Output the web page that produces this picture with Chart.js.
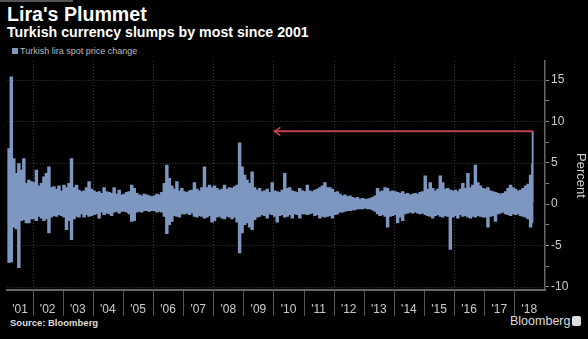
<!DOCTYPE html>
<html>
<head>
<meta charset="utf-8">
<script src="https://cdn.jsdelivr.net/npm/chart.js@4.4.0/dist/chart.umd.min.js"></script>
<style>
  html, body { margin: 0; padding: 0; background: #000; }
  #wrap { position: relative; width: 588px; height: 339px; background: #000; overflow: hidden;
          font-family: "Liberation Sans", Arial, sans-serif; }
  #chart { position: absolute; left: 0; top: 0; }
  .txt { position: absolute; white-space: nowrap; color: #fff; }
</style>
</head>
<body>
<div id="wrap">
  <div style="position:absolute;left:0;top:0;width:73px;height:2px;background:#555"></div>
  <div class="txt" style="left:7px;top:3px;font-size:19.6px;font-weight:bold;">Lira's Plummet</div>
  <div class="txt" style="left:7px;top:24px;font-size:14.2px;font-weight:bold;">Turkish currency slumps by most since 2001</div>
  <div class="txt" style="left:12px;top:46px;font-size:9px;color:#bbb;"><span style="display:inline-block;width:6px;height:6px;background:#7d97c0;margin-right:2px;"></span>Turkish lira spot price change</div>
  <div class="txt" style="left:10px;top:317px;font-size:9.5px;font-weight:bold;color:#ddd;">Source: Bloomberg</div>
  <div class="txt" style="left:510px;top:314px;font-size:12.5px;color:#ddd;">Bloomberg</div>
  <div style="position:absolute;left:572px;top:316px;width:9px;height:10px;background:#ddd;border-radius:2px;"></div>
  <canvas id="chart" width="588" height="339"></canvas>
</div>
<script>
// daily % moves, summarised as the monthly high and low
// months counted from Jan 2001; the series starts in March 2001
const firstMonth = 2;
const monthHigh = [
  6.7, 15.4, 5.5, 3.7, 4.9, 4.1, 5.5, 2.5, 2.9, 2.7,             // 2001 (Mar-Dec)
  2.6, 4.1, 2.2, 2.5, 3.3, 3.7, 4.5, 2.0, 2.1, 1.8, 2.2, 1.6,    // 2002
  2.3, 2.0, 2.5, 5.5, 2.0, 2.3, 1.7, 1.5, 1.6, 2.0, 2.7, 1.8,    // 2003
  1.6, 1.4, 1.5, 1.3, 2.0, 1.5, 1.4, 1.3, 2.0, 1.2, 1.7, 1.1,    // 2004
  1.2, 1.4, 1.5, 2.3, 1.9, 1.3, 1.1, 1.0, 1.2, 1.1, 1.0, 0.9,    // 2005
  1.0, 1.2, 1.1, 1.4, 2.5, 4.7, 3.1, 2.2, 1.8, 2.7, 1.6, 1.9,    // 2006
  1.5, 1.4, 1.6, 1.7, 2.6, 1.8, 1.6, 2.0, 4.5, 2.0, 2.3, 2.0,    // 2007
  2.2, 1.9, 1.7, 1.8, 2.3, 1.8, 2.0, 1.9, 2.1, 2.3, 7.4, 4.5,    // 2008
  3.5, 2.9, 2.5, 3.9, 2.0, 1.7, 1.9, 1.5, 1.6, 1.8, 1.4, 2.6,    // 2009
  1.6, 1.5, 1.4, 1.7, 3.7, 1.9, 2.0, 1.6, 1.5, 1.4, 1.9, 1.6,    // 2010
  1.5, 2.3, 1.6, 1.5, 1.7, 1.8, 2.0, 2.2, 2.6, 2.0, 2.0, 1.8,    // 2011
  1.4, 1.5, 1.2, 1.0, 1.1, 0.9, 1.0, 0.8, 0.7, 0.8, 0.6, 0.7,    // 2012
  0.6, 0.6, 0.7, 0.8, 1.0, 1.9, 1.5, 1.6, 2.0, 1.9, 1.5, 1.6,    // 2013
  1.5, 1.4, 1.3, 1.5, 1.2, 1.3, 1.1, 1.2, 1.3, 1.2, 1.4, 1.5,    // 2014
  3.4, 1.8, 2.6, 1.9, 1.6, 1.8, 3.4, 2.6, 1.8, 1.9, 1.7, 1.6,    // 2015
  1.7, 1.5, 1.8, 2.5, 1.9, 3.7, 2.0, 2.3, 4.7, 2.6, 2.2, 1.9,    // 2016
  1.8, 2.0, 1.6, 1.5, 1.4, 1.3, 1.2, 1.3, 1.5, 1.9, 2.3, 2.0,    // 2017
  1.8, 1.6, 1.7, 1.9, 2.2, 2.4, 3.5                              // 2018 (Jan-Jul)
];
const monthLow = [
  -7.1, -7.0, -2.8, -3.0, -7.7, -2.0, -1.9, -2.3, -2.3, -1.8,
  -1.8, -2.0, -1.5, -1.7, -2.0, -1.8, -3.5, -1.6, -1.4, -1.5, -1.3, -1.4,
  -1.6, -3.1, -2.0, -4.3, -1.8, -1.5, -1.6, -1.2, -1.6, -1.3, -1.5, -1.4,
  -1.3, -1.2, -1.7, -1.0, -1.3, -1.1, -1.2, -1.4, -1.0, -0.9, -1.1, -0.9,
  -0.9, -1.0, -1.2, -2.1, -2.0, -1.0, -0.9, -1.0, -0.8, -0.8, -0.9, -0.8,
  -0.8, -1.0, -0.9, -1.0, -1.5, -3.6, -2.5, -2.1, -1.4, -1.5, -1.6, -1.2,
  -1.2, -1.1, -1.3, -1.1, -1.5, -1.6, -1.4, -1.5, -1.7, -1.6, -1.4, -2.2,
  -2.0, -1.6, -1.5, -1.7, -1.8, -1.5, -1.6, -1.8, -1.6, -2.2, -5.9, -3.5,
  -2.5, -2.3, -2.8, -3.1, -1.9, -1.6, -1.5, -1.3, -1.4, -1.7, -1.2, -1.3,
  -1.5, -2.2, -1.4, -1.3, -1.6, -1.5, -1.3, -1.7, -1.2, -1.3, -1.7, -1.2,
  -1.2, -1.3, -1.2, -1.1, -1.4, -1.3, -1.7, -1.5, -1.6, -1.5, -1.4, -1.7,
  -1.3, -1.2, -1.0, -1.0, -0.9, -0.8, -0.8, -0.7, -0.7, -0.6, -0.6, -0.6,
  -0.5, -0.6, -0.6, -0.7, -0.9, -1.2, -1.4, -1.3, -1.5, -2.8, -1.5, -1.4,
  -1.3, -2.3, -1.6, -2.0, -1.2, -1.1, -1.0, -1.1, -1.0, -1.1, -1.2, -1.1,
  -1.3, -1.4, -1.5, -1.7, -1.4, -1.3, -1.5, -1.6, -1.4, -1.5, -5.5, -1.6,
  -1.4, -1.7, -1.3, -1.5, -1.4, -1.6, -1.7, -1.5, -1.6, -1.4, -1.5, -1.6,
  -1.6, -2.8, -1.5, -1.4, -2.1, -1.2, -1.1, -1.0, -1.2, -1.3, -1.4, -1.2,
  -1.3, -1.2, -1.4, -1.5, -1.6, -1.8, -2.8
];
// last few days, August 2018
const augDays = [3, 7, 10];
const augMoves = [4.9, -2.3, 8.8];

const yearLabels = ["'01", "'02", "'03", "'04", "'05", "'06", "'07", "'08", "'09",
                    "'10", "'11", "'12", "'13", "'14", "'15", "'16", "'17", "'18"];
const gridLevels = [15, 10, 5, -5, -10];

const monthBars = monthHigh.map((h, i) => ({
  x: 2001 + (firstMonth + i + 0.5) / 12,
  y: [monthLow[i], h]
}));
const dayBars = augDays.map((d, i) => ({
  x: 2018 + (7 + d / 31) / 12,
  y: augMoves[i] > 0 ? [0, augMoves[i]] : [augMoves[i], 0]
}));
const lastDay = { x: dayBars[dayBars.length - 1].x, y: augMoves[augMoves.length - 1] };

const overlay = {
  id: 'overlay',
  beforeDatasetsDraw(chart) {
    const { ctx, chartArea: a, scales: { x, y } } = chart;
    ctx.save();
    ctx.strokeStyle = '#3c3c3c';
    ctx.lineWidth = 1;
    ctx.setLineDash([1, 2]);
    gridLevels.forEach(v => {
      const py = Math.round(y.getPixelForValue(v)) + 0.5;
      ctx.beginPath(); ctx.moveTo(a.left, py); ctx.lineTo(a.right, py); ctx.stroke();
    });
    for (let yr = 2002; yr <= 2018; yr += 2) {
      const px = Math.round(x.getPixelForValue(yr)) + 0.5;
      ctx.beginPath(); ctx.moveTo(px, a.top); ctx.lineTo(px, a.bottom); ctx.stroke();
    }
    ctx.restore();
  },
  afterDatasetsDraw(chart) {
    const { ctx, chartArea: a, scales: { x, y } } = chart;
    ctx.save();
    // year separators under the axis
    ctx.strokeStyle = '#555';
    ctx.lineWidth = 1;
    for (let yr = 2002; yr <= 2018; yr++) {
      const px = Math.round(x.getPixelForValue(yr)) + 0.5;
      ctx.beginPath(); ctx.moveTo(px, a.bottom + 1); ctx.lineTo(px, a.bottom + 26); ctx.stroke();
    }
    // red arrow pointing back to the last move of that size
    const py = y.getPixelForValue(lastDay.y);
    const tip = x.getPixelForValue(2010.03);
    const end = x.getPixelForValue(lastDay.x);
    ctx.strokeStyle = '#c4424f';
    ctx.lineWidth = 2;
    ctx.beginPath(); ctx.moveTo(tip, py); ctx.lineTo(end, py); ctx.stroke();
    ctx.lineWidth = 1.5;
    ctx.beginPath();
    ctx.moveTo(tip + 6, py - 4); ctx.lineTo(tip, py); ctx.lineTo(tip + 6, py + 4);
    ctx.stroke();
    ctx.restore();
  }
};

const font = { family: '"Liberation Sans", Arial, sans-serif', size: 12 };

new Chart(document.getElementById('chart'), {
  type: 'bar',
  data: {
    datasets: [{
      label: 'Turkish lira spot price change',
      data: monthBars,
      backgroundColor: '#7d97c0',
      borderWidth: 0,
      barThickness: 2.8,
      grouped: false
    }, {
      label: 'August 2018',
      data: dayBars,
      backgroundColor: '#7d97c0',
      borderWidth: 0,
      barThickness: 1.2,
      grouped: false
    }]
  },
  options: {
    responsive: false,
    animation: false,
    layout: { padding: { left: 7, top: 61 } },
    plugins: { legend: { display: false }, tooltip: { enabled: false } },
    scales: {
      x: {
        type: 'linear',
        offset: false,
        min: 2001.16,
        max: 2019.02,
        afterBuildTicks: s => {
          s.ticks = yearLabels.map((l, i) => ({ value: i === 0 ? 2001.58 : 2001.5 + i }));
        },
        ticks: {
          color: '#ccc',
          font: font,
          padding: 12,
          maxRotation: 0,
          autoSkip: false,
          callback: (v, i) => yearLabels[i]
        },
        grid: { display: false, drawTicks: false, offset: false },
        border: { color: '#666', width: 2 },
        afterFit: s => { s.height = 49; }
      },
      y: {
        position: 'right',
        min: -10.4,
        max: 17.3,
        afterBuildTicks: s => {
          const t = [];
          for (let v = -10; v <= 15; v += 2.5) t.push({ value: v });
          s.ticks = t;
        },
        ticks: {
          color: '#ccc',
          font: font,
          padding: 2,
          callback: v => (v % 5 === 0 ? v : '')
        },
        grid: { drawOnChartArea: false, drawTicks: true, tickLength: 4, tickColor: '#888' },
        border: { color: '#666', width: 1.5 },
        title: {
          display: true,
          text: 'Percent',
          color: '#ccc',
          font: { family: font.family, size: 13 },
          padding: 0
        },
        afterFit: s => { s.width = 43; }
      }
    }
  },
  plugins: [overlay]
});
</script>
</body>
</html>
